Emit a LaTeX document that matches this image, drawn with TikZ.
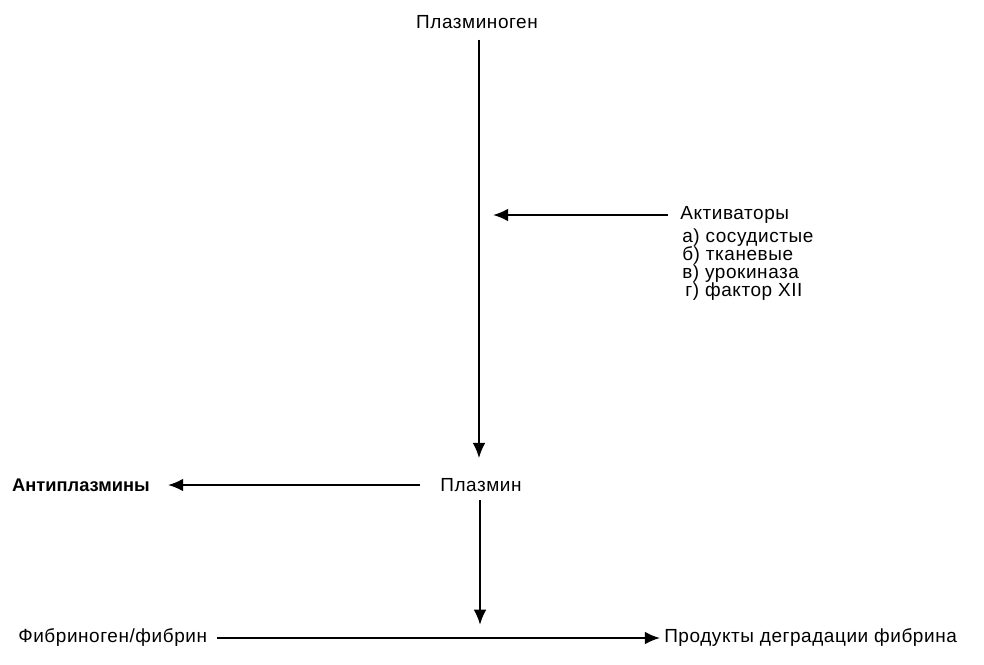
\documentclass[tikz,border=0pt]{standalone}
\usepackage{fontspec}
\setmainfont{Liberation Sans}[LetterSpace=3]
\newfontfamily\heavysans{Liberation Sans}[LetterSpace=0]
\usepackage{tikz}
\usetikzlibrary{arrows.meta,positioning,calc}

\begin{document}
\begin{tikzpicture}[
    substance/.style={inner sep=0pt, font=\fontsize{13.5}{12.8}\selectfont},
    arrow/.style={-{Latex[length=3.8mm,width=3.2mm]}, line width=1.4pt}
]
\useasboundingbox (0,0) rectangle (24.6,-16.6);

% Substances
\node[substance] (plg) at (11.925, -0.55) {Плазминоген};
\node[substance] (pl) at (12.025, -12.125) {Плазмин};
\node[substance, anchor=east, font=\fontsize{13}{12.8}\heavysans\bfseries] (anti) at (3.75, -12.125) {Антиплазмины};
\node[substance, anchor=west] (fib) at (0.45, -15.95) {Фибриноген/фибрин};
\node[substance, anchor=west] (fdp) at (16.6, -15.95) {Продукты деградации фибрина};

% Activators
\node[substance, anchor=west] (act) at (17.0, -5.375) {Активаторы};
\node[substance, anchor=north west, align=left] (actlist) at ([xshift=0.05cm, yshift=-0.12cm]act.south west)
  {а) сосудистые\\б) тканевые\\в) урокиназа\\\,г) фактор XII};

% Helper points
\coordinate (axis) at (11.975, 0);
\coordinate (hit) at (12.325, -5.375);
\coordinate (cut) at (12.0, -15.95);

% Arrows
\draw[arrow] ($(plg.south -| axis)+(0,-0.27)$) -- ($(pl.north -| axis)+(0,0.5)$);
\draw[arrow] ($(act.west)+(-0.3,0)$) -- (hit);
\draw[arrow] ($(pl.west)+(-0.5,0)$) -- ($(anti.east)+(0.45,0)$);
\draw[arrow] ($(pl.south -| cut)+(0,-0.2)$) -- ($(cut)+(0,0.33)$);
\draw[arrow] ($(fib.east)+(0.25,0)$) -- ($(fdp.west)+(-0.1,0)$);

\end{tikzpicture}
\end{document}
